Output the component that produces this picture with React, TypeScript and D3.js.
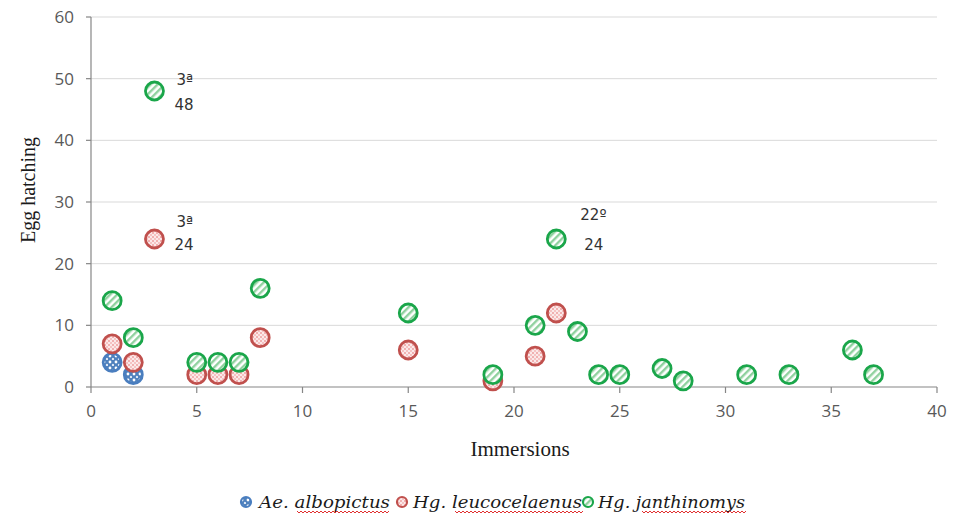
import * as d3 from 'd3';

type Pt = { x: number; y: number };

const albopictus: Pt[] = [
  { x: 1, y: 4 },
  { x: 2, y: 2 },
];

const leucocelaenus: Pt[] = [
  { x: 1, y: 7 }, { x: 2, y: 4 }, { x: 3, y: 24 }, { x: 5, y: 2 }, { x: 6, y: 2 },
  { x: 7, y: 2 }, { x: 8, y: 8 }, { x: 15, y: 6 }, { x: 19, y: 1 }, { x: 21, y: 5 },
  { x: 22, y: 12 },
];

const janthinomys: Pt[] = [
  { x: 1, y: 14 }, { x: 2, y: 8 }, { x: 3, y: 48 }, { x: 5, y: 4 }, { x: 6, y: 4 },
  { x: 7, y: 4 }, { x: 8, y: 16 }, { x: 15, y: 12 }, { x: 19, y: 2 }, { x: 21, y: 10 },
  { x: 22, y: 24 }, { x: 23, y: 9 }, { x: 24, y: 2 }, { x: 25, y: 2 }, { x: 27, y: 3 },
  { x: 28, y: 1 }, { x: 31, y: 2 }, { x: 33, y: 2 }, { x: 36, y: 6 }, { x: 37, y: 2 },
];

const xTicks = [0, 5, 10, 15, 20, 25, 30, 35, 40];
const yTicks = [0, 10, 20, 30, 40, 50, 60];

const notes = [
  { x: 3, y: 48, top: '3ª', bottom: '48' },
  { x: 3, y: 24, top: '3ª', bottom: '24' },
  { x: 22, y: 24, top: '22º', bottom: '24' },
];

const series = [
  { genus: 'Ae.', name: 'albopictus', data: albopictus, stroke: '#4a7ebf', fill: 'url(#pBlue)' },
  { genus: 'Hg.', name: 'leucocelaenus', data: leucocelaenus, stroke: '#c0504d', fill: 'url(#pRed)' },
  { genus: 'Hg.', name: 'janthinomys', data: janthinomys, stroke: '#1aa64a', fill: 'url(#pGreen)' },
];

const W = 954;
const H = 520;
const left = 91;
const right = 937;
const top = 17;
const bottom = 387;

// hand-placed text boxes next to the annotated points
const noteOffsets = [
  { tx: 22, ty: -6, bx: 20, by: 19 },
  { tx: 22, ty: -12, bx: 20, by: 11 },
  { tx: 24, ty: -19, bx: 28, by: 11 },
];

// legend layout: marker x, text start, full text width, underline span
const legendItems = [
  { mx: 246, tx: 259, tw: 131, u0: 297, u1: 390 },
  { mx: 402, tx: 413, tw: 169, u0: 455, u1: 582 },
  { mx: 588, tx: 598, tw: 147, u0: 642, u1: 745 },
];

export default function App() {
  const x = d3.scaleLinear().domain([0, 40]).range([left, right]);
  const y = d3.scaleLinear().domain([0, 60]).range([bottom, top]);
  const r = 9;

  const wavy = (x0: number, x1: number, yy: number) => {
    let d = `M${x0},${yy}`;
    for (let px = x0; px < x1 - 1; px += 4) d += ` l2,2 l2,-2`;
    return d;
  };

  return (
    <svg
      width={W}
      height={H}
      style={{ position: 'absolute', left: 0, top: 0, background: '#fff' }}
    >
      <defs>
        <pattern id="pGreen" width={5} height={5} patternUnits="userSpaceOnUse" patternTransform="rotate(45)">
          <rect width={5} height={5} fill="#ffffff" />
          <rect width={2.4} height={5} fill="#8fd19e" />
        </pattern>
        <pattern id="pRed" width={4} height={4} patternUnits="userSpaceOnUse">
          <rect width={4} height={4} fill="#fbe9e9" />
          <circle cx={1} cy={1} r={1} fill="#ee9f9f" />
          <circle cx={3} cy={3} r={1} fill="#f3b7b7" />
        </pattern>
        <pattern id="pBlue" width={6} height={6} patternUnits="userSpaceOnUse">
          <rect width={6} height={6} fill="#4f81bd" />
          <circle cx={2} cy={2} r={1.4} fill="#ffffff" />
          <circle cx={5} cy={5} r={1.2} fill="#dfe8f5" />
        </pattern>
      </defs>

      {yTicks.filter((t) => t > 0).map((t) => (
        <line key={`g${t}`} x1={left} x2={right} y1={y(t)} y2={y(t)} stroke="#d9d9d9" strokeWidth={1} />
      ))}

      <line x1={left} x2={left} y1={top} y2={bottom} stroke="#868686" strokeWidth={1.2} />
      <line x1={left} x2={right} y1={bottom} y2={bottom} stroke="#868686" strokeWidth={1.2} />
      {yTicks.map((t) => (
        <g key={`y${t}`}>
          <line x1={left - 5} x2={left} y1={y(t)} y2={y(t)} stroke="#868686" strokeWidth={1.2} />
          <text
            x={left - 17}
            y={y(t)}
            dy="0.35em"
            textAnchor="end"
            fontFamily="'Open Sans', sans-serif"
            fontSize={17}
            fill="#595959"
          >
            {t}
          </text>
        </g>
      ))}
      {xTicks.map((t) => (
        <g key={`x${t}`}>
          <line x1={x(t)} x2={x(t)} y1={bottom} y2={bottom + 6} stroke="#868686" strokeWidth={1.2} />
          <text
            x={x(t)}
            y={bottom + 30}
            textAnchor="middle"
            fontFamily="'Liberation Sans Narrow', 'Open Sans', sans-serif"
            fontSize={17}
            fill="#595959"
          >
            {t}
          </text>
        </g>
      ))}

      <text
        transform="translate(28,190) rotate(-90)"
        textAnchor="middle"
        dy="0.35em"
        fontFamily="'Liberation Serif', 'DejaVu Serif', serif"
        fontSize={20}
        fill="#1a1a1a"
      >
        Egg hatching
      </text>
      <text
        x={520}
        y={456}
        textAnchor="middle"
        fontFamily="'Liberation Serif', 'DejaVu Serif', serif"
        fontSize={21}
        fill="#1a1a1a"
      >
        Immersions
      </text>

      {series.map((s) => (
        <g key={s.name}>
          {s.data.map((d, i) => (
            <circle
              key={i}
              cx={x(d.x)}
              cy={y(d.y)}
              r={r}
              fill={s.fill}
              stroke={s.stroke}
              strokeWidth={2.8}
            />
          ))}
        </g>
      ))}

      {notes.map((n, i) => {
        const o = noteOffsets[i];
        return (
          <g key={i} fontFamily="'DejaVu Sans', sans-serif" fontSize={15} fill="#333">
            <text x={x(n.x) + o.tx} y={y(n.y) + o.ty}>{n.top}</text>
            <text x={x(n.x) + o.bx} y={y(n.y) + o.by}>{n.bottom}</text>
          </g>
        );
      })}

      {series.map((s, i) => {
        const li = legendItems[i];
        return (
          <g key={`l${s.name}`}>
            <circle cx={li.mx} cy={502} r={5} fill={s.fill} stroke={s.stroke} strokeWidth={2.2} />
            <text
              x={li.tx}
              y={508}
              textLength={li.tw}
              lengthAdjust="spacingAndGlyphs"
              fontFamily="'DejaVu Serif', 'Liberation Serif', serif"
              fontStyle="italic"
              fontSize={17}
              fill="#1a1a1a"
            >
              {s.genus} {s.name}
            </text>
            <path d={wavy(li.u0, li.u1, 511)} fill="none" stroke="#e03030" strokeWidth={1} />
          </g>
        );
      })}
    </svg>
  );
}
